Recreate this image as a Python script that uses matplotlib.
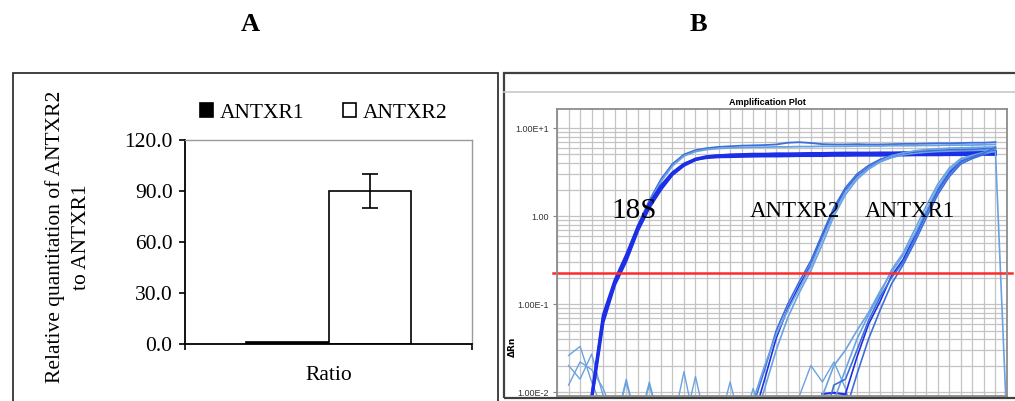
import numpy as np
import matplotlib
matplotlib.use('Agg')
import matplotlib.pyplot as plt
from matplotlib.patches import Rectangle
from matplotlib.lines import Line2D
from matplotlib.ticker import FixedLocator, LogLocator, NullFormatter

# ---- panel A : relative quantitation ----
genes = ['ANTXR1', 'ANTXR2']
ratio = [1.0, 90.0]
ratio_err = [0.0, 10.0]
bar_fill = ['black', 'white']
yticks_a = [0.0, 30.0, 60.0, 90.0, 120.0]

# ---- panel B : amplification plot (delta Rn per cycle) ----
threshold = 0.224
ylabels_b = ['1.00E-2', '1.00E-1', '1.00', '1.00E+1']
yticks_b = [0.01, 0.1, 1.0, 10.0]

# 18S wells, first value is cycle 3
s18_start = 3
s18_a = [0.004, 0.0085, 0.069, 0.174, 0.33, 0.71, 1.30, 2.09, 3.05, 3.85, 4.45, 4.75, 4.85,
         4.9, 4.92, 4.95, 4.95, 4.97, 5.0, 5.0, 5.0, 5.02, 5.02, 5.05, 5.05, 5.05, 5.05,
         5.08, 5.08, 5.1, 5.1, 5.1, 5.12, 5.12, 5.12, 5.15, 5.15]
s18_b = [0.004, 0.009, 0.075, 0.185, 0.36, 0.75, 1.38, 2.2, 3.1, 3.9, 4.4, 4.6, 4.7,
         4.72, 4.75, 4.78, 4.8, 4.8, 4.82, 4.85, 4.85, 4.85, 4.88, 4.88, 4.9, 4.9, 4.9,
         4.92, 4.92, 4.95, 4.95, 4.95, 4.97, 4.97, 5.0, 5.0, 5.0]
s18_c = [0.003, 0.008, 0.062, 0.165, 0.31, 0.68, 1.25, 2.0, 2.95, 3.75, 4.35, 4.7, 4.85,
         4.95, 5.0, 5.05, 5.05, 5.1, 5.1, 5.12, 5.15, 5.15, 5.18, 5.2, 5.2, 5.2, 5.22,
         5.22, 5.25, 5.25, 5.25, 5.28, 5.28, 5.3, 5.3, 5.3, 5.32]
s18_d = [0.004, 0.0088, 0.072, 0.18, 0.35, 0.78, 1.5, 2.6, 3.9, 5.0, 5.6, 5.9, 6.1,
         6.2, 6.3, 6.35, 6.4, 6.5, 6.8, 6.9, 6.75, 6.55, 6.5, 6.5, 6.55, 6.5, 6.5,
         6.55, 6.6, 6.6, 6.65, 6.7, 6.7, 6.75, 6.8, 6.8, 6.9]
s18_e = [0.004, 0.0082, 0.066, 0.17, 0.34, 0.74, 1.42, 2.45, 3.7, 4.8, 5.4, 5.7, 5.85,
         5.95, 6.0, 6.05, 6.05, 6.1, 6.1, 6.15, 6.15, 6.2, 6.2, 6.2, 6.25, 6.25, 6.25,
         6.3, 6.3, 6.3, 6.35, 6.35, 6.4, 6.4, 6.4, 6.45, 6.5]

# ANTXR2 wells, first value is cycle 17
a2_start = 17
a2_a = [0.003, 0.005, 0.014, 0.041, 0.089, 0.162, 0.28, 0.58, 1.17, 1.96, 2.82, 3.55,
        4.23, 4.68, 5.0, 5.13, 5.2, 5.25, 5.3, 5.35, 5.4, 5.45, 5.5]
a2_b = [0.003, 0.004, 0.011, 0.03, 0.07, 0.135, 0.24, 0.48, 1.0, 1.75, 2.6, 3.4,
        4.1, 4.6, 4.95, 5.15, 5.3, 5.4, 5.45, 5.5, 5.55, 5.6, 5.6]
a2_c = [0.004, 0.007, 0.018, 0.05, 0.1, 0.18, 0.31, 0.63, 1.25, 2.1, 3.0, 3.75,
        4.4, 4.9, 5.2, 5.4, 5.5, 5.6, 5.65, 5.7, 5.75, 5.8, 5.9]
a2_d = [0.004, 0.008, 0.02, 0.045, 0.085, 0.15, 0.27, 0.55, 1.1, 1.9, 2.75, 3.5,
        4.2, 4.8, 5.2, 5.5, 5.7, 5.8, 5.9, 5.95, 6.0, 6.05, 6.1]

# ANTXR1 wells, first value is cycle 24
a1_start = 24
a1_a = [0.003, 0.004, 0.0095, 0.025, 0.059, 0.107, 0.21, 0.32, 0.59, 1.12, 2.0, 3.16,
        4.27, 4.68, 5.1, 5.6]
a1_b = [0.003, 0.004, 0.006, 0.016, 0.04, 0.085, 0.17, 0.28, 0.5, 0.95, 1.75, 2.8,
        3.9, 4.5, 5.0, 5.5]
a1_c = [0.004, 0.008, 0.018, 0.04, 0.075, 0.13, 0.245, 0.38, 0.7, 1.3, 2.3, 3.5,
        4.5, 4.9, 5.3, 5.8]
a1_d = [0.009, 0.02, 0.03, 0.05, 0.08, 0.14, 0.23, 0.36, 0.62, 1.15, 2.1, 3.3,
        4.35, 4.8, 5.2, 5.4, 0.004]
a1_e = [0.004, 0.012, 0.014, 0.03, 0.065, 0.12, 0.2, 0.3, 0.55, 1.05, 1.9, 3.0,
        4.1, 4.7, 5.2, 6.0]

# baseline noise, (first cycle, values)
n1 = (2, [0.026, 0.033, 0.013, 0.006, 0.004, 0.013, 0.004])
n2 = (2, [0.02, 0.014, 0.027, 0.009, 0.004, 0.004, 0.004, 0.012, 0.004])
n3 = (2, [0.012, 0.022, 0.018, 0.011, 0.005, 0.004])
n4 = (6, [0.004, 0.014, 0.004, 0.013, 0.004, 0.004, 0.017, 0.004])
n5 = (12, [0.004, 0.015, 0.004, 0.004, 0.013, 0.004, 0.011, 0.004])
n6 = (21, [0.004, 0.009, 0.02, 0.013, 0.022, 0.011, 0.004])
n7 = (24, [0.0095, 0.0098, 0.0094, 0.004])

serif = 'Liberation Serif'
sans = 'Liberation Sans'


def draw(ax, start, vals, color, lw):
    x = np.arange(start, start + len(vals))
    ax.plot(x, vals, color=color, lw=lw, solid_joinstyle='round')


fig = plt.figure(figsize=(10.15, 4.01), dpi=100)

fig.text(0.2463, 0.9377, 'A', family=serif, fontsize=19, fontweight='bold', ha='center', va='center')
fig.text(0.6877, 0.9377, 'B', family=serif, fontsize=19, fontweight='bold', ha='center', va='center')

# frame of panel A
fig.add_artist(Rectangle((0.0128, -0.02), 0.478, 0.838, transform=fig.transFigure,
                         fill=False, edgecolor='#333333', lw=1.3))

axA = fig.add_axes([0.1823, 0.1422, 0.2828, 0.509])
pos = [-0.143, 0.143]
bars = axA.bar(pos, ratio, width=0.286, color=bar_fill, edgecolor='black', linewidth=1.2)
axA.errorbar(pos[1], ratio[1], yerr=ratio_err[1], fmt='none', ecolor='black',
             elinewidth=1.2, capsize=5.5, capthick=1.2)
axA.set_xlim(-0.5, 0.5)
axA.set_ylim(0, 120)
axA.set_yticks(yticks_a)
axA.set_yticklabels(['%.1f' % v for v in yticks_a], family=serif, fontsize=15.5)
axA.set_xticks([-0.5, 0.5])
axA.set_xticklabels([])
axA.tick_params(axis='both', direction='out', length=4, width=1.2, pad=5)
for s in ['left', 'bottom']:
    axA.spines[s].set_color('black')
    axA.spines[s].set_linewidth(1.3)
for s in ['top', 'right']:
    axA.spines[s].set_color('#9a9a9a')
    axA.spines[s].set_linewidth(1.0)
axA.text(0.5, -0.152, 'Ratio', transform=axA.transAxes, family=serif, fontsize=15.5,
         ha='center', va='center')
fig.text(68 / 1015, 1 - 237 / 401, 'Relative quantitation of ANTXR2\nto ANTXR1', rotation=90,
         family=serif, fontsize=15.5, ha='center', va='center', multialignment='center',
         linespacing=1.55)
fig.legend([bars[0], bars[1]], genes, loc='center', bbox_to_anchor=(0.319, 0.718),
           ncol=2, frameon=False, handlelength=0.6, handleheight=0.6, handletextpad=0.3,
           columnspacing=1.8, prop={'family': serif, 'size': 15.5})

# frame of panel B (software screenshot)
fig.add_artist(Rectangle((0.4966, 0.0075), 0.53, 0.8105, transform=fig.transFigure,
                         fill=False, edgecolor='#404040', lw=1.6))
fig.add_artist(Line2D([0.4966, 1.0], [0.7706, 0.7706], transform=fig.transFigure,
                      color='#c8c8c8', lw=1.2))
fig.text(0.7557, 0.7456, 'Amplification Plot', family=sans, fontsize=6.5, fontweight='bold',
         ha='center', va='center')
fig.text(0.5044, 0.1347, 'ΔRn', rotation=90, family='DejaVu Sans', fontsize=6.5,
         fontweight='bold', ha='center', va='center')

axB = fig.add_axes([0.5488, 0.0125, 0.4433, 0.7157])
axB.set_yscale('log')
axB.set_xlim(1, 40)
axB.set_ylim(10 ** -2.045, 10 ** 1.216)
axB.set_xticks(range(1, 41))
axB.tick_params(axis='x', length=0, labelbottom=False)
axB.yaxis.set_major_locator(FixedLocator(yticks_b))
axB.set_yticklabels(ylabels_b, family=sans, fontsize=6.5, color='#333333')
axB.yaxis.set_minor_locator(LogLocator(base=10, subs=np.arange(2, 10)))
axB.yaxis.set_minor_formatter(NullFormatter())
axB.tick_params(axis='y', which='major', length=3, color='#888888', pad=3)
axB.tick_params(axis='y', which='minor', length=0)
axB.grid(True, which='both', color='#c4c4c4', lw=0.9)
axB.set_axisbelow(True)
for s in axB.spines.values():
    s.set_color('#8c8c8c')
    s.set_linewidth(1.3)

light = '#6aa2e2'
mid = '#3d6fdc'
dark = '#1c2ee6'

for start, vals in [n1, n2, n3, n4, n5, n6]:
    draw(axB, start, vals, light, 1.0)
draw(axB, n7[0], n7[1], dark, 1.5)

for vals, col in [(s18_d, mid), (s18_e, light)]:
    draw(axB, s18_start, vals, col, 1.3)
for vals in [s18_a, s18_b, s18_c]:
    draw(axB, s18_start, vals, dark, 2.0)

for vals, col in [(a2_a, dark), (a2_b, light), (a2_c, mid), (a2_d, light)]:
    draw(axB, a2_start, vals, col, 1.2)
for vals, col in [(a1_a, dark), (a1_b, mid), (a1_c, light), (a1_d, light), (a1_e, mid)]:
    draw(axB, a1_start, vals, col, 1.2)

axB.plot([0.65, 40.43], [threshold, threshold], color='#ff2a2a', lw=1.8, clip_on=False)

axB.text(7.67, 1.14, '18S', family=serif, fontsize=21, ha='center', va='center')
axB.text(21.6, 1.14, 'ANTXR2', family=serif, fontsize=16.5, ha='center', va='center')
axB.text(31.6, 1.14, 'ANTXR1', family=serif, fontsize=16.5, ha='center', va='center')

fig.savefig('out.png', dpi=100)
